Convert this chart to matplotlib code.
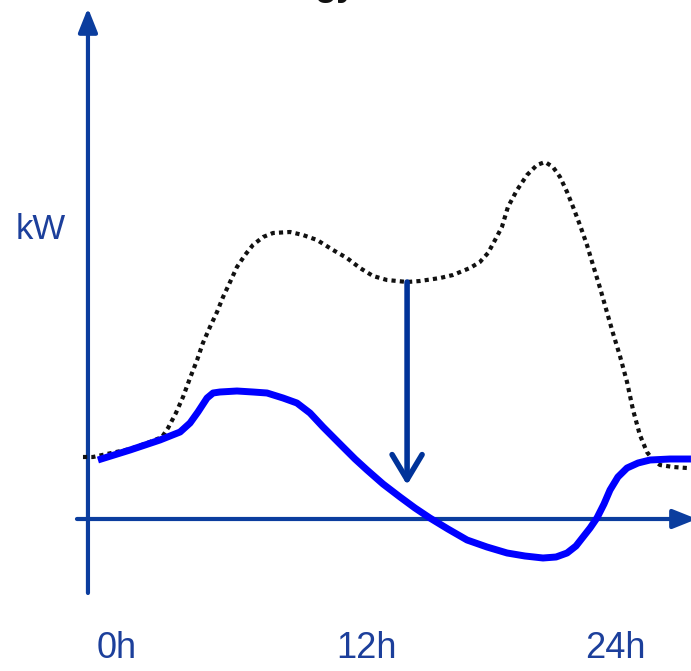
import matplotlib.pyplot as plt

# load profile sketch: dotted = demand before, solid = net load after (kW vs hour)
hours_before = [-1.64, -1.16, 0.63, 1.59, 2.17, 2.46, 2.84, 3.18, 3.52, 3.86, 4.14, 4.48,
                4.82, 5.11, 5.45, 5.78, 6.17, 6.55, 7.04, 7.52, 8.34, 8.96, 9.64, 10.41,
                11.08, 11.71, 12.34, 13.01, 13.98, 14.60, 15.57, 16.19, 17.01, 17.49,
                17.88, 18.22, 18.55, 18.84, 19.28, 19.76, 20.24, 20.63, 21.01, 21.35,
                21.69, 21.98, 22.31, 22.65, 22.94, 23.28, 23.61, 23.90, 24.24, 24.58,
                24.87, 25.20, 25.54, 25.83, 26.17, 26.80, 27.47]
kw_before = [0.62, 0.62, 0.70, 0.77, 0.82, 0.91, 1.06, 1.22, 1.41, 1.59, 1.76, 1.92,
             2.07, 2.22, 2.37, 2.52, 2.64, 2.74, 2.82, 2.86, 2.87, 2.84, 2.79, 2.69,
             2.61, 2.51, 2.43, 2.39, 2.37, 2.38, 2.41, 2.44, 2.51, 2.57,
             2.66, 2.79, 2.92, 3.12, 3.29, 3.44, 3.54, 3.57, 3.52, 3.42,
             3.27, 3.12, 2.94, 2.74, 2.54, 2.31, 2.07, 1.86, 1.63, 1.37,
             1.09, 0.84, 0.67, 0.59, 0.54, 0.52, 0.51]

hours_after = [-0.92, 0.63, 2.07, 3.04, 3.52, 3.90, 4.34, 4.63, 4.96, 5.78, 6.55, 7.23,
               8.00, 8.67, 9.30, 9.93, 10.89, 11.47, 12.05, 12.82, 13.64, 14.36, 15.08,
               15.95, 16.87, 17.83, 18.80, 19.66, 20.53, 21.16, 21.69, 22.12, 22.46,
               22.80, 23.13, 23.47, 23.76, 24.14, 24.58, 25.11, 25.69, 26.65, 27.66]
kw_after = [0.59, 0.69, 0.79, 0.87, 0.96, 1.07, 1.21, 1.26, 1.27, 1.28, 1.27, 1.26,
            1.21, 1.16, 1.06, 0.92, 0.72, 0.60, 0.49, 0.35, 0.22, 0.11, 0.01,
            -0.10, -0.21, -0.28, -0.34, -0.37, -0.39, -0.38, -0.34, -0.27, -0.18,
            -0.09, 0.01, 0.15, 0.29, 0.42, 0.51, 0.56, 0.59, 0.60, 0.60]

hour_ticks = [0, 12, 24]
hour_labels = ['0h', '12h', '24h']

axis_col = '#0b3d9e'
text_col = '#1c3f9b'

fig = plt.figure(figsize=(6.91, 6.71), dpi=100)
ax = fig.add_axes([0, 0, 1, 1])
ax.set_xlim(-5.639, 27.663)
ax.set_ylim(-1.52, 5.19)
ax.axis('off')

# axes drawn as arrows
head = '-|>,head_length=1.45,head_width=0.58'
ax.annotate('', xy=(-1.40, 5.11), xytext=(-1.40, -0.74), annotation_clip=False,
            arrowprops=dict(arrowstyle=head, mutation_scale=10, lw=3, color=axis_col,
                            shrinkA=0, shrinkB=0), zorder=2)
ax.annotate('', xy=(27.95, 0), xytext=(-1.93, 0), annotation_clip=False,
            arrowprops=dict(arrowstyle=head, mutation_scale=10, lw=3, color=axis_col,
                            shrinkA=0, shrinkB=0), zorder=2)

ax.plot(hours_before, kw_before, color='#111111', lw=3,
        linestyle=(0, (1, 1)), dash_capstyle='butt', zorder=3)
ax.plot(hours_after, kw_after, color='#0000ff', lw=5, zorder=4,
        solid_capstyle='butt', solid_joinstyle='round')

# reduction arrow
ax.annotate('', xy=(13.98, 0.34), xytext=(13.98, 2.37),
            arrowprops=dict(arrowstyle='->,head_length=1.8,head_width=1.08',
                            mutation_scale=10, lw=4, color='#003399',
                            shrinkA=0, shrinkB=0), zorder=5)

ax.text(-3.66, 2.90, 'kW', fontsize=25, color=text_col, family='Liberation Sans',
        ha='center', va='center')
for h, lab in zip(hour_ticks, hour_labels):
    ax.text(h, -1.30, lab, fontsize=26, color=text_col, family='Liberation Sans',
            ha='center', va='center')

# title cut off at the top edge, only the descenders show
ax.text(11.57, 5.24, 'gy', fontsize=26, fontweight='bold', color='#111111',
        family='Liberation Sans', ha='right', va='baseline')

fig.savefig('out.png', dpi=100)
